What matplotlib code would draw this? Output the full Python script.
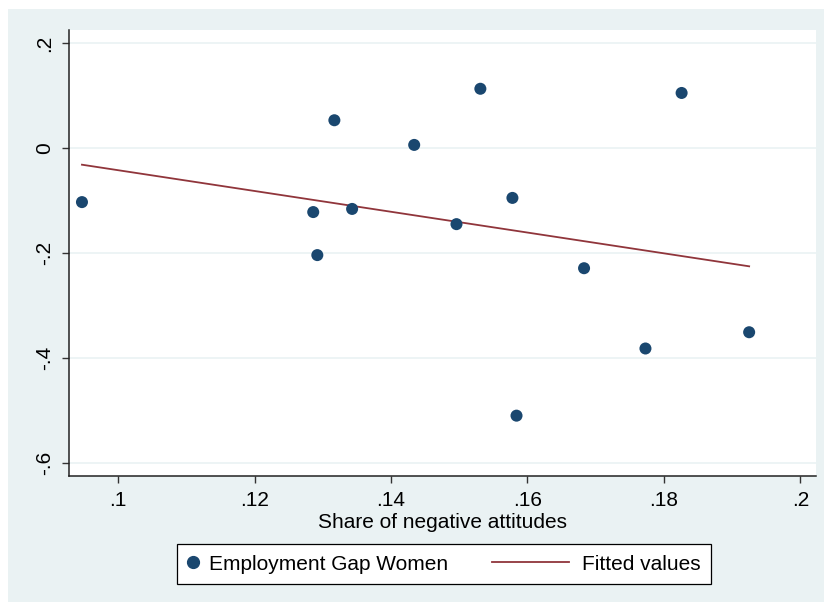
import numpy as np
import matplotlib.pyplot as plt
from matplotlib.patches import Rectangle
from matplotlib.lines import Line2D
from matplotlib.legend_handler import HandlerLine2D

plt.rcParams['font.family'] = ['Liberation Sans', 'DejaVu Sans']
plt.rcParams['font.size'] = 15

# données
share_neg = [0.0947, 0.1286, 0.1292, 0.1317, 0.1343, 0.1434, 0.1496,
             0.1531, 0.1578, 0.1584, 0.1683, 0.1773, 0.1826, 0.1925]
emp_gap = [-0.103, -0.122, -0.204, 0.053, -0.116, 0.006, -0.145,
           0.113, -0.095, -0.510, -0.229, -0.382, 0.105, -0.351]
xticks = [0.10, 0.12, 0.14, 0.16, 0.18, 0.20]
xtick_labels = ['.1', '.12', '.14', '.16', '.18', '.2']
yticks = [0.2, 0.0, -0.2, -0.4, -0.6]
ytick_labels = ['.2', '0', '-.2', '-.4', '-.6']

BG = '#eaf2f3'
NAVY = '#1a476f'
MAROON = '#90353b'


class LongLineHandler(HandlerLine2D):
    """Trait de légende plus long que la case (vers la gauche)."""
    def create_artists(self, legend, orig_handle, xdescent, ydescent,
                       width, height, fontsize, trans):
        arts = super().create_artists(legend, orig_handle, xdescent, ydescent,
                                      width, height, fontsize, trans)
        for art in arts:
            y0 = np.asarray(art.get_ydata())[0]
            art.set_data([width - 58, width - 3], [y0, y0])
        return arts


fig = plt.figure(figsize=(8.25, 6.03), dpi=100)
fig.patch.set_facecolor('white')
# fond type Stata s2color
fig.patches.append(Rectangle((8 / 825, 1 / 603), 816 / 825, 593 / 603,
                             transform=fig.transFigure, facecolor=BG,
                             edgecolor='none', zorder=-10))

ax = fig.add_axes([69 / 825, 1 - 476 / 603, 747 / 825, 446 / 603])
ax.set_zorder(1)
ax.set_facecolor('white')

# droite de régression (MCO)
x = np.array(share_neg)
y = np.array(emp_gap)
b, a = np.polyfit(x, y, 1)
xf = np.array([x.min(), x.max()])
ax.plot(xf, a + b * xf, color=MAROON, lw=1.3, zorder=3)
ax.scatter(x, y, s=75, color=NAVY, edgecolors='none', zorder=4)

ax.set_xlim(0.0928, 0.2023)
ax.set_ylim(-0.625, 0.225)
ax.set_xticks(xticks)
ax.set_xticklabels(xtick_labels)
ax.set_yticks(yticks)
ax.set_yticklabels(ytick_labels, rotation=90, va='center')
ax.grid(axis='y', color=BG, lw=1.2, zorder=1)
ax.tick_params(direction='out', length=5, width=1, color='#333333', pad=6)

for side in ['top', 'right']:
    ax.spines[side].set_visible(False)
for side in ['left', 'bottom']:
    ax.spines[side].set_linewidth(1.1)
    ax.spines[side].set_color('#222222')

ax.set_xlabel('Share of negative attitudes', labelpad=2)

dot = Line2D([0], [0], marker='o', ls='none', color=NAVY, markersize=8.5)
fit = Line2D([0], [0], color=MAROON, lw=1.3)
leg = fig.legend([dot, fit], ['Employment Gap Women', 'Fitted values'],
                 handler_map={fit: LongLineHandler()},
                 loc='center', bbox_to_anchor=(444 / 825, 1 - 564 / 603),
                 ncol=2, fancybox=False, framealpha=1, edgecolor='black',
                 handlelength=0.6, handletextpad=0.45, columnspacing=5.4,
                 borderpad=0.5, fontsize=15)
leg.get_frame().set_linewidth(0.9)
leg.set_zorder(5)

fig.savefig('out.png', dpi=100, facecolor=fig.get_facecolor())
